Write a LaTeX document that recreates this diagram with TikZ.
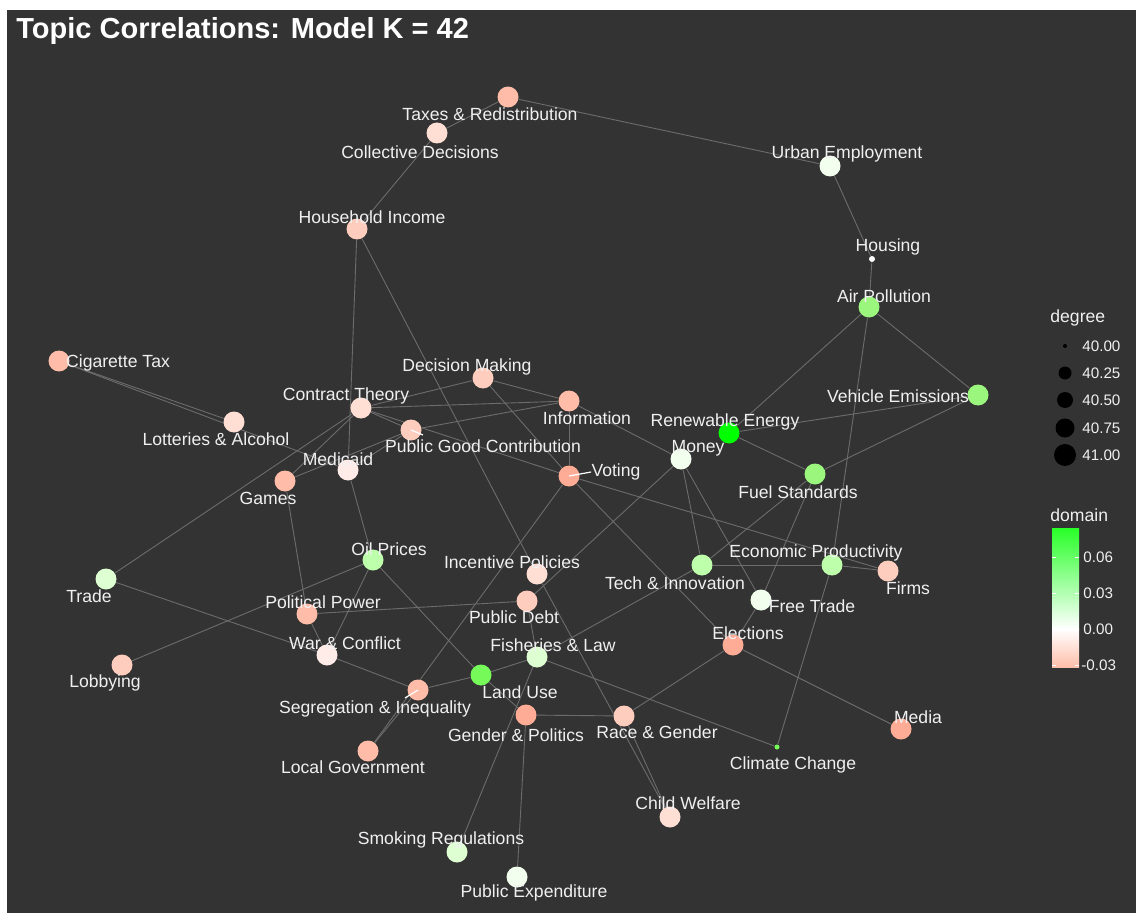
\documentclass[tikz,border=0pt]{standalone}
\usepackage{fontspec}
\setmainfont{Liberation Sans}
\usepackage{tikz}
\usetikzlibrary{positioning}
\definecolor{panel}{RGB}{51,51,51}
\definecolor{edgegray}{RGB}{108,108,108}
\definecolor{txt}{RGB}{240,240,242}
\definecolor{salmonA}{RGB}{255,172,150}
\definecolor{salmonB}{RGB}{255,188,168}
\definecolor{salmonC}{RGB}{255,205,190}
\definecolor{salmonD}{RGB}{255,222,212}
\definecolor{salmonE}{RGB}{255,236,232}
\definecolor{whiteG}{RGB}{243,255,238}
\definecolor{greenA}{RGB}{0,255,0}
\definecolor{greenB}{RGB}{118,250,90}
\definecolor{greenC}{RGB}{155,246,125}
\definecolor{greenD}{RGB}{190,255,172}
\definecolor{greenE}{RGB}{222,255,210}
\definecolor{barGreen}{RGB}{40,255,40}
\definecolor{barSalmon}{RGB}{255,190,170}
\pgfdeclarelayer{back}
\pgfdeclarelayer{edges}
\pgfsetlayers{back,edges,main}
\tikzset{
  topic/.style={circle, inner sep=0pt, minimum size=10.5pt},
  lbl/.style={text=txt, inner sep=0pt, font=\fontsize{8.8}{10}\selectfont},
  legtxt/.style={text=txt, inner sep=0pt, anchor=west, font=\fontsize{7.6}{9}\selectfont},
  legtitle/.style={text=txt, inner sep=0pt, anchor=west, font=\fontsize{8.8}{10}\selectfont},
  link/.style={draw=edgegray, line width=0.45pt},
  lead/.style={draw=white, line width=0.6pt},
}

\begin{document}
\begin{tikzpicture}[x=0.5pt, y=-0.5pt]

\begin{pgfonlayer}{back}
\useasboundingbox (0,0) rectangle (1136,915);
\fill[white] (0,0) rectangle (1136,915);
\fill[panel] (7,10) rectangle (1136,913);
\end{pgfonlayer}

\node[anchor=west, inner sep=0pt, text=white, font=\fontsize{14.5}{17}\selectfont\bfseries] (title) at (16,31) {Topic Correlations: Model K = 42};

% topics
\node[topic, fill=salmonB] (tax) at (508,97) {};
\node[topic, fill=salmonD] (col) at (437,133) {};
\node[topic, fill=salmonC] (hhi) at (357,229) {};
\node[topic, fill=whiteG] (urb) at (830,166) {};
\node[topic, fill=white, minimum size=3pt] (hou) at (872,259) {};
\node[topic, fill=greenC] (air) at (869,307) {};
\node[topic, fill=salmonB] (cig) at (59,361) {};
\node[topic, fill=salmonC] (dec) at (483,378) {};
\node[topic, fill=salmonD] (con) at (361,408) {};
\node[topic, fill=salmonB] (inf) at (569,401) {};
\node[topic, fill=salmonD] (lot) at (234,422) {};
\node[topic, fill=salmonC] (pgc) at (411,430) {};
\node[topic, fill=salmonE] (med) at (348,470) {};
\node[topic, fill=salmonB] (gam) at (285,481) {};
\node[topic, fill=salmonA] (vot) at (569,476) {};
\node[topic, fill=greenA] (ren) at (729,433) {};
\node[topic, fill=whiteG] (mon) at (681,459) {};
\node[topic, fill=greenC] (veh) at (978,395) {};
\node[topic, fill=greenC] (fue) at (815,474) {};
\node[topic, fill=greenD] (oil) at (373,560) {};
\node[topic, fill=salmonD] (inc) at (537,574) {};
\node[topic, fill=greenE] (tra) at (106,579) {};
\node[topic, fill=greenD] (tec) at (702,565) {};
\node[topic, fill=greenD] (eco) at (832,565) {};
\node[topic, fill=salmonC] (fir) at (888,571) {};
\node[topic, fill=salmonC] (deb) at (527,601) {};
\node[topic, fill=whiteG] (fre) at (761,600) {};
\node[topic, fill=salmonB] (pol) at (307,614) {};
\node[topic, fill=salmonE] (war) at (327,655) {};
\node[topic, fill=greenE] (fis) at (537,657) {};
\node[topic, fill=salmonA] (ele) at (733,645) {};
\node[topic, fill=salmonC] (lob) at (122,665) {};
\node[topic, fill=greenB] (lan) at (481,675) {};
\node[topic, fill=salmonB] (seg) at (418,690) {};
\node[topic, fill=salmonA] (gen) at (526,715) {};
\node[topic, fill=salmonC] (rac) at (624,716) {};
\node[topic, fill=salmonA] (mda) at (901,729) {};
\node[topic, fill=salmonB] (loc) at (368,751) {};
\node[topic, fill=greenB, minimum size=2.5pt] (cli) at (777,747) {};
\node[topic, fill=salmonD] (chi) at (670,817) {};
\node[topic, fill=greenE] (smo) at (457,852) {};
\node[topic, fill=whiteG] (pex) at (517,877) {};

% correlations
\begin{pgfonlayer}{edges}
\draw[link] (tax) -- (col);
\draw[link] (tax) -- (urb);
\draw[link] (col) -- (hhi);
\draw[link] (urb) -- (hou);
\draw[link] (hou) -- (air);
\draw[link] (hhi) -- (med);
\draw[link] (hhi) -- (inc);
\draw[link] (inc) -- (chi);
\draw[link] (cig) -- (lot);
\draw[link] (cig) -- (med);
\draw[link] (con) -- (dec);
\draw[link] (con) -- (inf);
\draw[link] (con) -- (pgc);
\draw[link] (con) -- (vot);
\draw[link] (con) -- (tra);
\draw[link] (con) -- (gam);
\draw[link] (gam) -- (pgc);
\draw[link] (med) -- (pgc);
\draw[link] (gam) -- (pol);
\draw[link] (med) -- (oil);
\draw[link] (dec) -- (inf);
\draw[link] (dec) -- (vot);
\draw[link] (inf) -- (vot);
\draw[link] (inf) -- (pgc);
\draw[link] (inf) -- (mon);
\draw[link] (vot) -- (loc);
\draw[link] (vot) -- (ele);
\draw[link] (vot) -- (fir);
\draw[link] (mon) -- (deb);
\draw[link] (mon) -- (tec);
\draw[link] (mon) -- (fre);
\draw[link] (ren) -- (air);
\draw[link] (ren) -- (veh);
\draw[link] (ren) -- (fue);
\draw[link] (air) -- (veh);
\draw[link] (air) -- (eco);
\draw[link] (eco) -- (cli);
\draw[link] (veh) -- (fue);
\draw[link] (fue) -- (tec);
\draw[link] (fue) -- (fre);
\draw[link] (tec) -- (fis);
\draw[link] (fre) -- (ele);
\draw[link] (tec) -- (eco);
\draw[link] (eco) -- (fir);
\draw[link] (ele) -- (rac);
\draw[link] (ele) -- (mda);
\draw[link] (fis) -- (cli);
\draw[link] (fis) -- (lan);
\draw[link] (fis) -- (deb);
\draw[link] (fis) -- (smo);
\draw[link] (gen) -- (pex);
\draw[link] (gen) -- (rac);
\draw[link] (lan) -- (gen);
\draw[link] (lan) -- (seg);
\draw[link] (oil) -- (lan);
\draw[link] (deb) -- (pol);
\draw[link] (pol) -- (war);
\draw[link] (oil) -- (war);
\draw[link] (oil) -- (lob);
\draw[link] (tra) -- (war);
\draw[link] (war) -- (seg);
\draw[link] (seg) -- (loc);
\draw[link] (rac) -- (chi);
\end{pgfonlayer}

% labels
\node[lbl] (tax-l) at (490,114) {Taxes \& Redistribution};
\node[lbl] (col-l) at (420,152) {Collective Decisions};
\node[lbl] (hhi-l) at (372,217) {Household Income};
\node[lbl] (urb-l) at (847,154) {Urban Employment};
\node[lbl] (hou-l) at (888,247) {Housing};
\node[lbl] (air-l) at (884,296) {Air Pollution};
\node[lbl] (cig-l) at (118,363) {Cigarette Tax};
\node[lbl] (dec-l) at (467,367) {Decision Making};
\node[lbl] (con-l) at (346,396) {Contract Theory};
\node[lbl] (inf-l) at (587,418) {Information};
\node[lbl] (lot-l) at (216,439) {Lotteries \& Alcohol};
\node[lbl] (pgc-l) at (483,446) {Public Good Contribution};
\node[lbl] (med-l) at (338,459) {Medicaid};
\node[lbl] (gam-l) at (268,498) {Games};
\node[lbl] (vot-l) at (616,472) {Voting};
\node[lbl] (ren-l) at (725,422) {Renewable Energy};
\node[lbl] (mon-l) at (698,448) {Money};
\node[lbl] (veh-l) at (898,396) {Vehicle Emissions};
\node[lbl] (fue-l) at (798,492) {Fuel Standards};
\node[lbl] (oil-l) at (389,549) {Oil Prices};
\node[lbl] (inc-l) at (512,562) {Incentive Policies};
\node[lbl] (tra-l) at (89,596) {Trade};
\node[lbl] (tec-l) at (675,583) {Tech \& Innovation};
\node[lbl] (eco-l) at (816,553) {Economic Productivity};
\node[lbl] (fir-l) at (908,588) {Firms};
\node[lbl] (deb-l) at (514,617) {Public Debt};
\node[lbl] (fre-l) at (812,606) {Free Trade};
\node[lbl] (pol-l) at (323,602) {Political Power};
\node[lbl] (war-l) at (345,643) {War \& Conflict};
\node[lbl] (fis-l) at (553,645) {Fisheries \& Law};
\node[lbl] (ele-l) at (748,633) {Elections};
\node[lbl] (lob-l) at (105,683) {Lobbying};
\node[lbl] (lan-l) at (520,692) {Land Use};
\node[lbl] (seg-l) at (375,709) {Segregation \& Inequality};
\node[lbl] (gen-l) at (516,735) {Gender \& Politics};
\node[lbl] (rac-l) at (657,732) {Race \& Gender};
\node[lbl] (mda-l) at (918,717) {Media};
\node[lbl] (loc-l) at (353,767) {Local Government};
\node[lbl] (cli-l) at (793,765) {Climate Change};
\node[lbl] (chi-l) at (688,803) {Child Welfare};
\node[lbl] (smo-l) at (441,840) {Smoking Regulations};
\node[lbl] (pex-l) at (534,893) {Public Expenditure};
\draw[lead] (vot.center) -- (vot-l.west);
\draw[lead] (pgc.center) -- ++(12,5);
\draw[lead] (seg.center) -- ++(-13,8);

% legend: degree
\node[legtitle] (deg-t) at (1050,318) {degree};
\node[topic, fill=black, minimum size=2pt] (d1) at (1065,346) {};
\node[topic, fill=black, minimum size=6.5pt] (d2) at (1065,373) {};
\node[topic, fill=black, minimum size=8pt] (d3) at (1065,400) {};
\node[topic, fill=black, minimum size=9.5pt] (d4) at (1065,428) {};
\node[topic, fill=black, minimum size=11pt] (d5) at (1065,455) {};
\node[legtxt] (d1-l) at (1082,346) {40.00};
\node[legtxt] (d2-l) at (1082,373) {40.25};
\node[legtxt] (d3-l) at (1082,400) {40.50};
\node[legtxt] (d4-l) at (1082,428) {40.75};
\node[legtxt] (d5-l) at (1082,455) {41.00};

% legend: domain
\node[legtitle] (dom-t) at (1050,515) {domain};
\shade[top color=barGreen, bottom color=white] (1052,528) rectangle (1079,629);
\shade[top color=white, bottom color=barSalmon] (1052,629) rectangle (1079,667);
\foreach \ty in {557,593,629,665} {
  \draw[white, line width=0.5pt] (1052,\ty) -- (1056,\ty);
  \draw[white, line width=0.5pt] (1075,\ty) -- (1079,\ty);
}
\node[legtxt] (c1-l) at (1083,557) {0.06};
\node[legtxt] (c2-l) at (1083,593) {0.03};
\node[legtxt] (c3-l) at (1083,629) {0.00};
\node[legtxt] (c4-l) at (1081,665) {-0.03};

\end{tikzpicture}
\end{document}
